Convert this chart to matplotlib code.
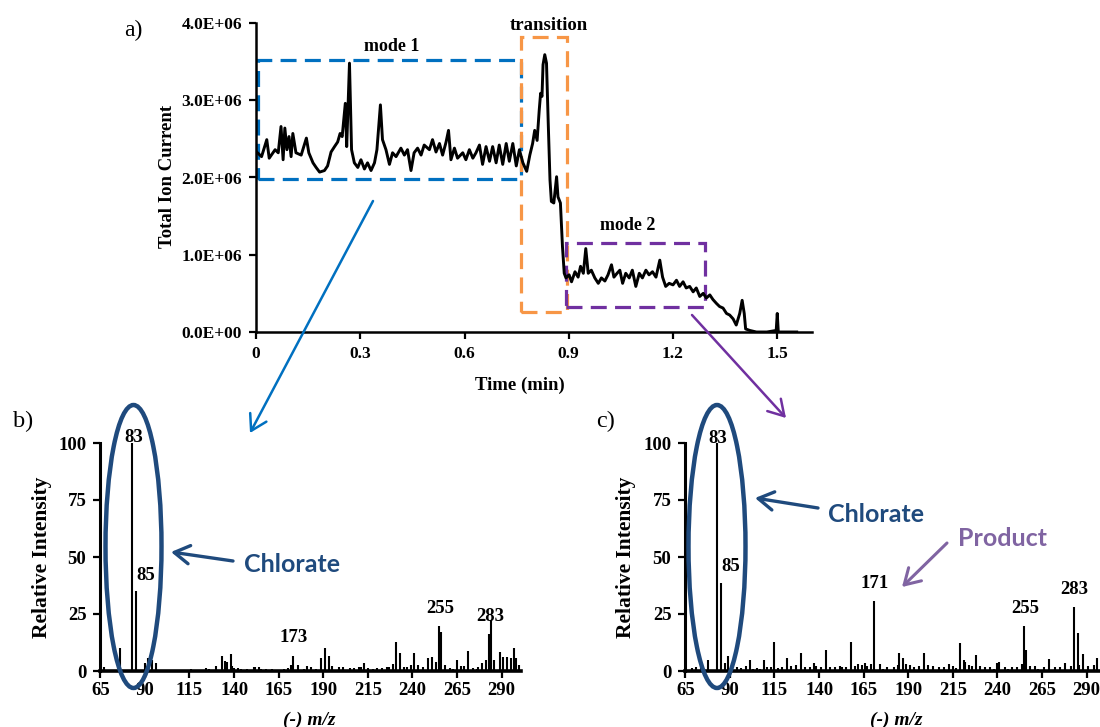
import matplotlib.pyplot as plt
from matplotlib.patches import Ellipse, Rectangle, FancyArrowPatch

# figure size in pixels, helpers turn pixel positions into figure fractions
W, H = 1100, 727

def fx(px):
    return px / W

def fy(py):
    return 1 - py / H

# ---- a) total ion current trace (time in min, TIC in units of 1e6) ----
TIME = [0.002, 0.016, 0.031, 0.038, 0.055, 0.064, 0.072, 0.078, 0.083, 0.089,
        0.095, 0.101, 0.106, 0.115, 0.130, 0.145, 0.152, 0.164, 0.173, 0.183,
        0.197, 0.206, 0.216, 0.226, 0.235, 0.242, 0.248, 0.257, 0.261, 0.269,
        0.275, 0.283, 0.293, 0.302, 0.312, 0.321, 0.331, 0.341, 0.348, 0.358,
        0.364, 0.374, 0.384, 0.393, 0.403, 0.417, 0.427, 0.436, 0.446, 0.455,
        0.465, 0.475, 0.484, 0.499, 0.508, 0.518, 0.528, 0.537, 0.547, 0.554,
        0.561, 0.571, 0.580, 0.595, 0.604, 0.614, 0.624, 0.633, 0.643, 0.652,
        0.662, 0.672, 0.681, 0.691, 0.700, 0.710, 0.720, 0.729, 0.739, 0.749,
        0.758, 0.768, 0.779, 0.788, 0.796, 0.802, 0.809, 0.815, 0.819, 0.823,
        0.826, 0.831, 0.836, 0.841, 0.846, 0.850, 0.857, 0.865, 0.869, 0.876,
        0.882, 0.887, 0.892, 0.901, 0.908, 0.918, 0.927, 0.934, 0.942, 0.949,
        0.956, 0.965, 0.975, 0.985, 0.994, 1.004, 1.013, 1.023, 1.030, 1.039,
        1.047, 1.055, 1.064, 1.074, 1.083, 1.093, 1.103, 1.112, 1.122, 1.131,
        1.141, 1.151, 1.162, 1.170, 1.179, 1.189, 1.200, 1.210, 1.219, 1.229,
        1.238, 1.248, 1.258, 1.267, 1.277, 1.287, 1.296, 1.306, 1.315, 1.325,
        1.334, 1.344, 1.354, 1.363, 1.373, 1.382, 1.392, 1.399, 1.405, 1.409,
        1.421, 1.440, 1.470, 1.497, 1.500, 1.503, 1.530, 1.556]
TIC = [2.33, 2.27, 2.49, 2.25, 2.36, 2.32, 2.66, 2.23, 2.64, 2.36,
       2.53, 2.27, 2.57, 2.32, 2.29, 2.51, 2.32, 2.19, 2.13, 2.07,
       2.09, 2.15, 2.33, 2.40, 2.46, 2.57, 2.53, 2.96, 2.40, 3.48,
       2.36, 2.19, 2.13, 2.23, 2.11, 2.19, 2.09, 2.19, 2.36, 2.94,
       2.49, 2.36, 2.17, 2.32, 2.27, 2.38, 2.29, 2.36, 2.09, 2.32,
       2.38, 2.29, 2.42, 2.36, 2.49, 2.33, 2.44, 2.29, 2.46, 2.61,
       2.23, 2.38, 2.25, 2.32, 2.23, 2.36, 2.25, 2.32, 2.42, 2.17,
       2.40, 2.21, 2.40, 2.19, 2.42, 2.17, 2.44, 2.21, 2.44, 2.15,
       2.36, 2.19, 2.08, 2.29, 2.44, 2.61, 2.48, 2.87, 3.09, 3.05,
       3.46, 3.59, 3.48, 2.70, 1.97, 1.69, 1.67, 2.01, 1.75, 1.67,
       1.10, 0.76, 0.70, 0.74, 0.65, 0.78, 0.71, 0.85, 0.76, 1.08,
       0.76, 0.80, 0.70, 0.63, 0.70, 0.66, 0.74, 0.87, 0.71, 0.76,
       0.80, 0.63, 0.76, 0.70, 0.80, 0.59, 0.76, 0.70, 0.80, 0.74,
       0.78, 0.71, 0.93, 0.71, 0.59, 0.63, 0.61, 0.67, 0.59, 0.65,
       0.57, 0.59, 0.52, 0.57, 0.46, 0.50, 0.44, 0.48, 0.42, 0.37,
       0.33, 0.31, 0.24, 0.22, 0.17, 0.09, 0.24, 0.41, 0.24, 0.04,
       0.02, 0.00, 0.00, 0.02, 0.24, 0.00, 0.00, 0.00]
TIC_TICKS = [0, 1, 2, 3, 4]
TIC_TICK_LABELS = ['0.0E+00', '1.0E+06', '2.0E+06', '3.0E+06', '4.0E+06']
TIME_TICKS = [0, 0.3, 0.6, 0.9, 1.2, 1.5]
TIME_TICK_LABELS = ['0', '0.3', '0.6', '0.9', '1.2', '1.5']

# ---- b) mode 1 spectrum ----
B_MZ = [67, 76, 83, 85, 90, 92, 94, 96, 100, 104, 108, 112, 116, 120, 124, 126,
        130, 133, 135, 136, 138, 139, 140, 142, 144, 147, 151, 152, 154, 155,
        158, 161, 165, 168, 170, 172, 173, 176, 179, 181, 183, 186, 189, 191,
        193, 195, 199, 201, 205, 207, 210, 211, 213, 215, 218, 220, 223, 226,
        227, 229, 231, 233, 235, 237, 239, 241, 243, 246, 249, 251, 253, 255,
        256, 258, 261, 263, 265, 267, 269, 271, 274, 276, 277, 279, 281, 283,
        284, 286, 289, 291, 293, 295, 297, 298, 300]
B_INT = [1.6, 10, 100, 35, 3.4, 5.6, 5, 3.4, 0.5, 0.6, 0.5, 0.6, 1, 0.6, 1.5, 1,
         2.2, 6.6, 4.4, 4, 7.3, 2.2, 1.2, 1.2, 1, 1, 1.9, 1.9, 1.9, 1,
         0.7, 1, 0.6, 0.8, 1.2, 2.6, 6.6, 2.5, 0.8, 2.2, 1.6, 1, 5.6, 10.2,
         6.6, 2.2, 1.9, 1.6, 1.2, 1.2, 1.6, 1.9, 3.6, 1.2, 0.8, 1.2, 1.2, 1.6,
         1.9, 3.1, 12.9, 7.9, 1.9, 1.6, 2.6, 7.9, 2.6, 1.6, 5.6, 6.0, 4.1, 19.7,
         17.2, 2.6, 1.2, 1.0, 4.8, 2.2, 2.2, 8.8, 1.2, 1.0, 1.9, 3.4, 4.8, 16.2,
         22.4, 4.8, 8.5, 6.3, 6.3, 5.6, 9.9, 5.6, 2.6]
B_LABELS = [('83', 83.6, 102.6), ('85', 90.6, 42), ('173', 173.6, 14.8),
            ('255', 255.4, 27.5), ('283', 283.5, 23.8)]

# ---- c) mode 2 spectrum ----
C_MZ = [69, 71, 74, 78, 83, 85, 87, 89, 91, 94, 96, 99, 101, 103, 105, 107,
        109, 111, 113, 115, 117, 119, 122, 124, 127, 130, 132, 135, 137, 138,
        141, 144, 146, 149, 152, 153, 155, 158, 160, 162, 164, 166, 167, 169,
        171, 174, 176, 178, 182, 184, 185, 187, 189, 191, 193, 196, 199, 201,
        204, 207, 210, 213, 215, 217, 219, 221, 222, 224, 226, 228, 230, 233,
        236, 238, 240, 241, 244, 246, 248, 251, 254, 255, 256, 258, 261, 263,
        266, 269, 272, 275, 278, 281, 283, 285, 286, 288, 291, 294, 296]
C_INT = [1.2, 1.6, 3.6, 4.8, 100, 38.5, 3.6, 6.6, 3.4, 1.6, 1.2, 2.2, 4.8, 0.8, 1.2, 0.8,
         4.8, 1.9, 1.6, 12.9, 1.2, 1.9, 5.6, 2.2, 2.6, 8.0, 1.6, 1.9, 3.4, 2.2,
         1.6, 9.2, 1.9, 1.6, 2.2, 1.9, 1.9, 12.9, 2.2, 3.1, 2.6, 3.4, 2.2, 3.1,
         30.8, 3.1, 1.0, 1.6, 1.9, 2.6, 8.0, 5.6, 3.1, 2.6, 1.9, 2.2, 8.0, 2.6,
         2.2, 1.6, 1.9, 3.1, 2.2, 1.2, 12.2, 4.8, 4.1, 2.6, 2.2, 7.0, 2.2, 1.9,
         1.6, 1.0, 3.4, 4.1, 1.9, 1.0, 1.6, 1.9, 3.1, 19.7, 9.2, 2.2, 2.2, 1.0,
         1.6, 5.1, 1.9, 1.6, 3.4, 2.2, 27.9, 16.5, 2.6, 7.5, 2.2, 2.6, 5.6]
C_LABELS = [('83', 83.2, 102), ('85', 90.4, 46), ('171', 171.4, 38.5),
            ('255', 255.6, 27.6), ('283', 283.0, 35.8)]

MZ_TICKS = [65, 90, 115, 140, 165, 190, 215, 240, 265, 290]
INT_TICKS = [0, 25, 50, 75, 100]

SERIF = 'Liberation Serif'
SANS = 'Lato'
NAVY = '#1F4A7D'
BLUE = '#0070C0'
ORANGE = '#F79646'
PURPLE = '#7030A0'
LILAC = '#8064A2'

plt.rcParams['font.family'] = SERIF
plt.rcParams['font.weight'] = 'bold'

fig = plt.figure(figsize=(W / 100, H / 100), dpi=100)


def style_axes(ax, size):
    for side in ['top', 'right']:
        ax.spines[side].set_visible(False)
    for side in ['left', 'bottom']:
        ax.spines[side].set_linewidth(1.8)
    ax.tick_params(direction='out', width=1.6, length=5, labelsize=size)
    for lab in ax.get_xticklabels() + ax.get_yticklabels():
        lab.set_fontweight('bold')


# ---- panel a ----
ax_a = fig.add_axes([fx(256), fy(332), (812 - 256) / W, (332 - 23) / H])
ax_a.plot(TIME, TIC, color='black', lw=2.1, solid_joinstyle='round')
ax_a.set_xlim(0, 1.6)
ax_a.set_ylim(0, 4)
ax_a.set_xticks(TIME_TICKS, TIME_TICK_LABELS)
ax_a.set_yticks(TIC_TICKS, TIC_TICK_LABELS)
style_axes(ax_a, 12.5)
ax_a.tick_params(axis='y', pad=5)
ax_a.tick_params(axis='x', pad=5)

dash = (0, (5, 2.6))
ax_a.add_patch(Rectangle((0.005, 1.98), 0.757, 1.54, fill=False, ec=BLUE,
                         lw=2.3, ls=dash, clip_on=False))
ax_a.add_patch(Rectangle((0.762, 0.26), 0.133, 3.56, fill=False, ec=ORANGE,
                         lw=2.3, ls=dash, clip_on=False))
ax_a.add_patch(Rectangle((0.892, 0.32), 0.401, 0.83, fill=False, ec=PURPLE,
                         lw=2.3, ls=dash, clip_on=False))
ax_a.text(0.39, 3.69, 'mode 1', ha='center', va='center', fontsize=13, fontweight='bold')
ax_a.text(0.842, 3.97, 'transition', ha='center', va='center', fontsize=13.5, fontweight='bold')
ax_a.text(1.07, 1.38, 'mode 2', ha='center', va='center', fontsize=13, fontweight='bold')

fig.text(fx(168), fy(176), 'Total Ion Current', rotation=90, ha='center', va='center',
         fontsize=13.5, fontweight='bold')
fig.text(fx(520), fy(385), 'Time (min)', ha='center', va='center', fontsize=13.5,
         fontweight='bold')
fig.text(fx(133), fy(30), 'a)', ha='center', va='center', fontsize=17, fontweight='normal')


# ---- panels b and c ----
def spectrum(ax, mz, inten, labels, right):
    ax.vlines(mz, 0, inten, color='black', lw=1.5)
    ax.set_xlim(65, right)
    ax.set_ylim(0, 100)
    ax.set_xticks(MZ_TICKS)
    ax.set_yticks(INT_TICKS)
    style_axes(ax, 13.5)
    ax.spines['bottom'].set_linewidth(2.6)
    ax.spines['left'].set_linewidth(2.2)
    ax.tick_params(axis='y', pad=5)
    ax.tick_params(axis='x', pad=3)
    for text, x, y in labels:
        ax.text(x, y, text, ha='center', va='center', fontsize=13.5,
                fontweight='bold', clip_on=False)


ax_b = fig.add_axes([fx(100.3), fy(671), (520.7 - 100.3) / W, (671 - 443) / H])
spectrum(ax_b, B_MZ, B_INT, B_LABELS, 300.7)
ax_c = fig.add_axes([fx(685.3), fy(671), (1100 - 685.3) / W, (671 - 443) / H])
spectrum(ax_c, C_MZ, C_INT, C_LABELS, 297.5)

for xc in [42, 626]:
    fig.text(fx(xc), fy(557), 'Relative Intensity', rotation=90, ha='center',
             va='center', fontsize=15.5, fontweight='bold')
for xc in [309, 896]:
    fig.text(fx(xc), fy(720), '(-) m/z', ha='center', va='center', fontsize=14,
             fontweight='bold', style='italic')
fig.text(fx(23), fy(421), 'b)', ha='center', va='center', fontsize=17.5, fontweight='normal')
fig.text(fx(606), fy(421), 'c)', ha='center', va='center', fontsize=17.5, fontweight='normal')

# ellipses round the chlorate peaks
for xc, wd in [(133.5, 56), (717, 57)]:
    fig.add_artist(Ellipse((fx(xc), fy(546.5)), wd / W, 283 / H,
                           transform=fig.transFigure, fill=False, ec=NAVY, lw=3.2))


def arrow(p0, p1, color, lw):
    fig.add_artist(FancyArrowPatch((fx(p0[0]), fy(p0[1])), (fx(p1[0]), fy(p1[1])),
                                   transform=fig.transFigure,
                                   arrowstyle='->,head_length=0.55,head_width=0.33',
                                   mutation_scale=20, color=color, lw=lw,
                                   shrinkA=0, shrinkB=0))


arrow((373, 201), (250, 433), BLUE, 1.8)
arrow((692, 315), (786, 418), PURPLE, 1.8)
arrow((233, 561), (171, 552), NAVY, 2.4)
arrow((818, 508), (755, 498), NAVY, 2.4)
arrow((947, 543), (902, 587), LILAC, 2.2)

fig.text(fx(292), fy(565), 'Chlorate', ha='center', va='center', fontsize=18,
         fontweight='bold', color=NAVY, family=SANS)
fig.text(fx(876), fy(514), 'Chlorate', ha='center', va='center', fontsize=18,
         fontweight='bold', color=NAVY, family=SANS)
fig.text(fx(1002), fy(538), 'Product', ha='center', va='center', fontsize=18,
         fontweight='bold', color=LILAC, family=SANS)

fig.savefig('out.png', dpi=100)
